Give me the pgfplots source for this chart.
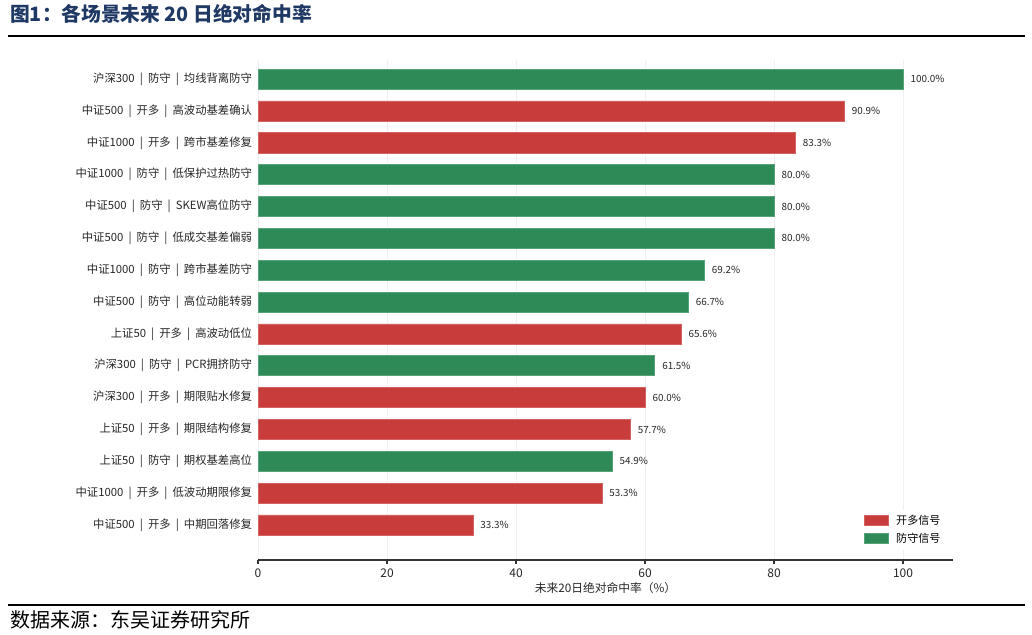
\documentclass[border=0pt]{standalone}
\usepackage{fontspec}
\setmainfont{Noto Sans CJK SC}
\usepackage{pgfplots}
\pgfplotsset{compat=1.18}
\definecolor{redbar}{RGB}{200,60,60}
\definecolor{greenbar}{RGB}{46,139,87}
\definecolor{titleblue}{RGB}{31,56,100}
\newcommand\sep{\hspace{0.45em}|\hspace{0.45em}}
\begin{document}
\begin{tikzpicture}
\path[use as bounding box] (0,0) rectangle (774pt,476.25pt);
\node[anchor=west, font=\bfseries\fontsize{14.8}{16}\selectfont, text=titleblue, inner sep=0] at (7.5pt,465.75pt) {图1：各场景未来 20 日绝对命中率};
\draw[line width=0.8pt] (6pt,449.25pt) -- (768.75pt,449.25pt);
\draw[line width=2pt] (6pt,449.25pt) -- (50pt,449.25pt);
\draw[line width=0.8pt] (6pt,22.5pt) -- (768.75pt,22.5pt);
\draw[line width=2pt] (6pt,22.5pt) -- (50pt,22.5pt);
\node[anchor=west, font=\fontsize{15}{16}\selectfont, inner sep=0] at (7.5pt,11pt) {数据来源：东吴证券研究所};
\begin{axis}[
  at={(193.5pt,56.25pt)}, anchor=south west,
  scale only axis, width=521.25pt, height=375pt,
  xbar, bar width=0.63,
  xmin=0, xmax=107.75, ymin=-1.1, ymax=14.6,
  axis x line*=bottom, axis y line*=left,
  y axis line style={draw=none},
  x axis line style={line width=0.9pt, black!80},
  xtick={0,20,40,60,80,100},
  xtick align=outside, major tick length=3pt,
  xtick style={black!80, line width=0.8pt},
  ytick={0,...,14}, ytick style={draw=none},
  yticklabels={
    中证500\sep 开多\sep 中期回落修复,
    中证1000\sep 开多\sep 低波动期限修复,
    上证50\sep 防守\sep 期权基差高位,
    上证50\sep 开多\sep 期限结构修复,
    沪深300\sep 开多\sep 期限贴水修复,
    沪深300\sep 防守\sep PCR拥挤防守,
    上证50\sep 开多\sep 高波动低位,
    中证500\sep 防守\sep 高位动能转弱,
    中证1000\sep 防守\sep 跨市基差防守,
    中证500\sep 防守\sep 低成交基差偏弱,
    中证500\sep 防守\sep SKEW高位防守,
    中证1000\sep 防守\sep 低保护过热防守,
    中证1000\sep 开多\sep 跨市基差修复,
    中证500\sep 开多\sep 高波动基差确认,
    沪深300\sep 防守\sep 均线背离防守},
  yticklabel style={font=\fontsize{8.5}{10}\selectfont, text=black!85, xshift=2pt},
  xticklabel style={font=\fontsize{9}{10}\selectfont, text=black!85},
  /pgf/number format/assume math mode=true,
  xmajorgrids, grid style={black!6, line width=0.6pt},
  xlabel={未来20日绝对命中率（\%）},
  xlabel style={font=\fontsize{8.8}{10}\selectfont, text=black!85, yshift=3pt},
  point meta=x,
  nodes near coords={\pgfmathprintnumber[fixed,fixed zerofill,precision=1]{\pgfplotspointmeta}\%},
  nodes near coords style={font=\fontsize{7.4}{8}\selectfont, text=black!85, anchor=west, inner sep=0pt, xshift=5.5pt},
  legend style={at={(rel axis cs:0.99,0.02)}, anchor=south east, draw=none, fill=white,
    font=\fontsize{8.3}{9}\selectfont, row sep=1pt, inner sep=2pt},
  legend cell align=left,
  legend image code/.code={\fill[#1] (0pt,-3.75pt) rectangle (18pt,3.75pt); \path[draw=none,fill=none] (0pt,0pt) (22pt,0pt);},
]
\addplot[bar shift=0pt, fill=redbar, draw=redbar!80!white] coordinates {
  (90.9,13) (83.3,12) (65.6,6) (60.0,4) (57.7,3) (53.3,1) (33.3,0)};
\addlegendentry{开多信号}
\addplot[bar shift=0pt, fill=greenbar, draw=greenbar!80!white] coordinates {
  (100.0,14) (80.0,11) (80.0,10) (80.0,9) (69.2,8) (66.7,7) (61.5,5) (54.9,2)};
\addlegendentry{防守信号}
\end{axis}
\end{tikzpicture}
\end{document}
